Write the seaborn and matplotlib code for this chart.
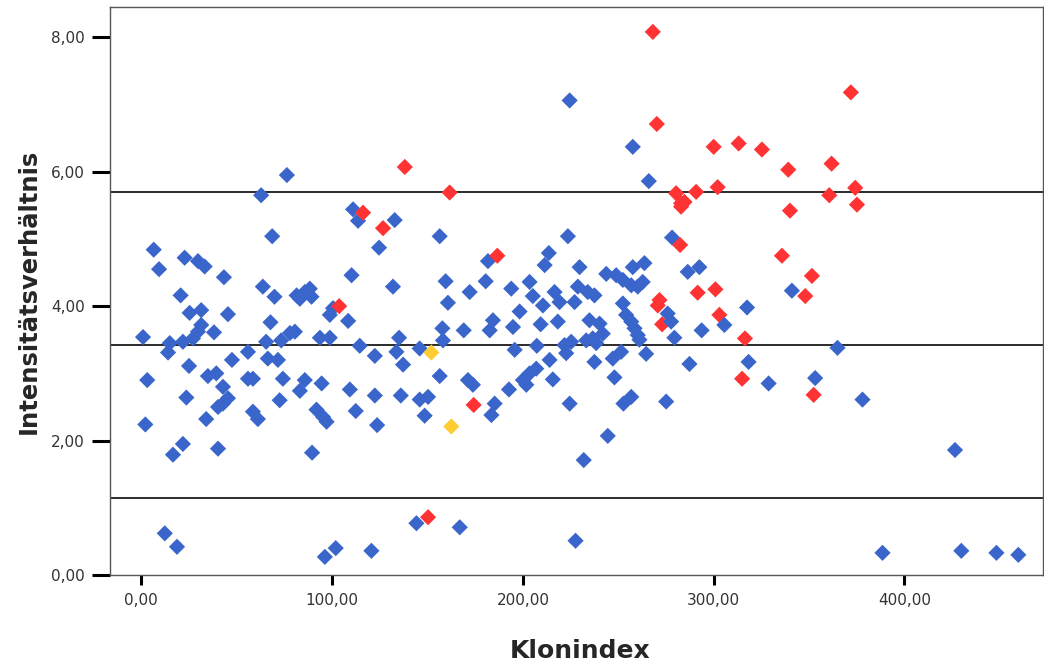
import pandas as pd
import seaborn as sns
import matplotlib
matplotlib.use("Agg")
import matplotlib.pyplot as plt
from matplotlib.ticker import FuncFormatter

# blue clones (unremarkable)
blue_x = [62.8, 76.3, 68.6, 6.5, 9.3, 22.7, 29.7, 33.2, 43.3, 20.6, 63.7, 69.8, 25.3, 31.4, 45.4,
          67.7, 31.4, 29.7, 38.1, 27.1, 21.8, 0.9, 14.9, 14.0, 65.4, 73.3, 55.9, 47.5, 66.3, 71.6,
          25.0, 3.1, 34.9, 39.3, 55.9, 58.5, 74.2, 42.8, 23.6, 45.4, 42.8, 40.2, 72.5, 58.5, 61.1,
          34.0, 2.1, 21.8, 16.6, 40.2, 12.3, 18.7,
          111.0, 113.6, 132.8, 124.6, 156.4, 110.2, 131.9, 159.5, 160.7, 81.4, 85.7, 88.3, 89.2,
          83.1, 100.5, 98.8, 108.4, 80.5, 77.9, 93.6, 98.8, 114.5, 135.1, 158.1, 157.8, 122.4,
          133.7, 137.2, 145.9, 156.4, 85.7, 83.1, 94.5, 109.3, 122.4, 136.0, 145.9, 150.3, 91.8,
          95.3, 97.1, 112.4, 148.5, 123.6, 89.5, 144.2, 166.9, 96.2, 101.9, 120.6,
          224.5, 223.6, 181.7, 213.6, 211.4, 229.7, 180.5, 172.1, 193.9, 203.5, 205.2, 210.5,
          216.6, 219.2, 228.8, 227.1, 234.0, 237.5, 184.3, 182.6, 198.3, 194.8, 209.3, 218.3,
          169.0, 234.9, 240.2, 241.9, 236.6, 233.2, 238.4, 195.7, 207.3, 221.8, 222.7, 225.3,
          214.0, 237.5, 207.0, 203.5, 200.0, 201.8, 215.7, 192.7, 171.2, 173.8, 185.2, 183.5,
          224.5, 231.9, 227.6,
          243.7, 248.9, 252.4, 256.8, 260.2, 262.8, 257.6, 263.7, 286.4, 292.5, 257.6, 266.0,
          278.2, 252.4, 317.5, 275.9, 277.7, 305.6, 293.7, 254.1, 256.8, 258.5, 260.2, 261.1,
          279.4, 264.6, 247.1, 251.5, 287.3, 318.3, 248.0, 328.8, 256.8, 252.7, 275.1, 244.5,
          341.0, 364.9, 353.2, 378.0, 426.5, 388.5, 429.8, 448.2, 459.7]
blue_y = [5.65, 5.95, 5.04, 4.84, 4.55, 4.72, 4.67, 4.59, 4.43, 4.16, 4.29, 4.14, 3.90, 3.94, 3.88,
          3.76, 3.72, 3.62, 3.61, 3.52, 3.47, 3.54, 3.45, 3.31, 3.47, 3.49, 3.32, 3.20, 3.22, 3.20,
          3.11, 2.90, 2.96, 3.00, 2.92, 2.92, 2.92, 2.80, 2.64, 2.63, 2.55, 2.50, 2.60, 2.43, 2.32,
          2.32, 2.24, 1.95, 1.79, 1.88, 0.62, 0.42,
          5.44, 5.27, 5.28, 4.87, 5.04, 4.46, 4.29, 4.37, 4.05, 4.16, 4.21, 4.26, 4.14,
          4.11, 3.97, 3.87, 3.78, 3.62, 3.60, 3.53, 3.53, 3.41, 3.53, 3.49, 3.67, 3.26,
          3.32, 3.13, 3.37, 2.96, 2.90, 2.74, 2.85, 2.76, 2.67, 2.67, 2.61, 2.65, 2.46,
          2.35, 2.28, 2.44, 2.37, 2.23, 1.82, 0.77, 0.71, 0.27, 0.40, 0.36,
          7.06, 5.04, 4.67, 4.79, 4.61, 4.58, 4.37, 4.21, 4.26, 4.36, 4.15, 4.01,
          4.21, 4.06, 4.29, 4.06, 4.21, 4.16, 3.79, 3.64, 3.92, 3.69, 3.73, 3.77,
          3.64, 3.79, 3.74, 3.59, 3.52, 3.49, 3.45, 3.35, 3.41, 3.42, 3.30, 3.47,
          3.20, 3.17, 3.07, 3.00, 2.90, 2.83, 2.91, 2.76, 2.90, 2.83, 2.55, 2.38,
          2.55, 1.71, 0.51,
          4.48, 4.46, 4.39, 4.31, 4.29, 4.36, 4.58, 4.64, 4.51, 4.58, 6.37, 5.86,
          5.02, 4.04, 3.98, 3.89, 3.77, 3.72, 3.64, 3.87, 3.77, 3.67, 3.57, 3.50,
          3.53, 3.29, 3.22, 3.32, 3.14, 3.17, 2.94, 2.85, 2.65, 2.55, 2.58, 2.07,
          4.23, 3.38, 2.93, 2.61, 1.86, 0.33, 0.36, 0.33, 0.30]

# red clones
red_x = [138.1, 161.6, 116.2, 126.7, 103.7, 150.3, 186.6, 174.2, 268.1, 270.2, 300.0, 313.1,
         325.3, 302.1, 290.8, 280.3, 282.9, 284.7, 282.9, 282.4, 291.6, 300.9, 271.6, 270.7,
         303.0, 273.0, 316.4, 314.9, 371.9, 339.1, 361.8, 360.6, 374.2, 375.1, 340.0, 335.8,
         351.5, 348.0, 352.4]
red_y = [6.07, 5.69, 5.39, 5.16, 4.00, 0.86, 4.75, 2.53, 8.08, 6.71, 6.37, 6.42,
         6.33, 5.77, 5.70, 5.68, 5.53, 5.55, 5.48, 4.91, 4.20, 4.25, 4.09, 4.01,
         3.87, 3.73, 3.52, 2.92, 7.18, 6.03, 6.12, 5.65, 5.76, 5.51, 5.42, 4.75,
         4.45, 4.15, 2.68]

# yellow clones
yellow_x = [152.0, 162.5]
yellow_y = [3.31, 2.21]

# mean and mean +/- 2 SD
ref_lines = [5.70, 3.42, 1.14]
x_ticks = [0, 100, 200, 300, 400]
y_ticks = [0, 2, 4, 6, 8]

palette = {"blau": "#3A66CC", "rot": "#FF3333", "gelb": "#FFCC33"}

df = pd.concat([
    pd.DataFrame({"Klonindex": blue_x, "Intensitätsverhältnis": blue_y, "Gruppe": "blau"}),
    pd.DataFrame({"Klonindex": red_x, "Intensitätsverhältnis": red_y, "Gruppe": "rot"}),
    pd.DataFrame({"Klonindex": yellow_x, "Intensitätsverhältnis": yellow_y, "Gruppe": "gelb"}),
], ignore_index=True).sort_values("Klonindex")

sns.set_style("white")
plt.rcParams["font.family"] = ["DejaVu Sans"]

fig = plt.figure(figsize=(10.44, 6.68), dpi=100)
ax = fig.add_axes([0.1054, 0.1392, 0.8936, 0.8503])

for v in ref_lines:
    ax.axhline(v, color="#1a1a1a", lw=1.3, zorder=1)

sns.scatterplot(data=df, x="Klonindex", y="Intensitätsverhältnis", hue="Gruppe",
                palette=palette, marker="D", s=68, linewidth=0, legend=False,
                ax=ax, zorder=2)

ax.set_xlim(-16.4, 472.6)
ax.set_ylim(0, 8.45)
ax.set_xticks(x_ticks)
ax.set_yticks(y_ticks)
fmt = FuncFormatter(lambda v, p: f"{v:.2f}".replace(".", ","))
ax.xaxis.set_major_formatter(fmt)
ax.yaxis.set_major_formatter(fmt)

ax.tick_params(axis="y", direction="out", length=13, width=2.2, color="black",
               labelsize=11, labelcolor="#333333", pad=5, left=True)
ax.tick_params(axis="x", direction="out", length=7, width=2.2, color="black",
               labelsize=11, labelcolor="#333333", pad=6, bottom=True)

for side in ["left", "bottom", "top", "right"]:
    ax.spines[side].set_visible(True)
    ax.spines[side].set_color("#555555")
    ax.spines[side].set_linewidth(1.0)

ax.set_xlabel("Klonindex", fontsize=18, fontweight="bold")
ax.set_ylabel("Intensitätsverhältnis", fontsize=17.5, fontweight="bold")
ax.xaxis.set_label_coords(0.504, -0.112)
ax.yaxis.set_label_coords(-0.074, 0.5)

fig.savefig("out.png", dpi=100, facecolor="white")
